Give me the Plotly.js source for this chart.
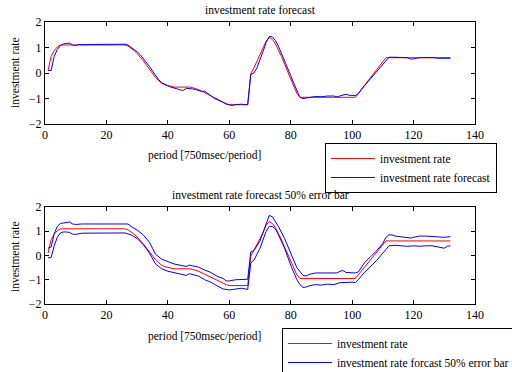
<!DOCTYPE html>
<html>
<head>
<meta charset="utf-8">
<script src="https://cdn.plot.ly/plotly-3.0.1.min.js"></script>
<style>html,body{margin:0;padding:0;background:#fff;overflow:hidden;}#chart{width:512px;height:372px;}</style>
</head>
<body>
<div id="chart"></div>
<script>
// Actual investment rate (same series in both panels)
var rateX = [1,2,3,4,5,26,27,28,29,30,31,32,33,34,35,36,37,38,39,40,41,42,47,48,50,52,54,56,58,59,60,66,67,68,69,70,71,72,73,74,75,76,77,78,79,80,81,82,83,101,111,132];
var rateY = [0.1,0.65,0.88,1.02,1.1,1.1,1.06,0.98,0.88,0.76,0.63,0.48,0.32,0.15,-0.02,-0.18,-0.3,-0.4,-0.46,-0.5,-0.53,-0.55,-0.55,-0.57,-0.65,-0.78,-0.9,-1.02,-1.14,-1.2,-1.24,-1.24,-0.02,0.2,0.45,0.7,0.95,1.25,1.4,1.32,1.15,0.92,0.65,0.35,0.05,-0.25,-0.55,-0.8,-0.95,-0.95,0.6,0.6];

// Forecast (top panel)
var fcX = [1,2,3,4,5,6,7,8,9,10,11,12,15,18,21,24,25,26,27,28,29,30,31,32,33,34,35,36,37,38,39,40,41,42,43,44,45,46,47,48,49,50,51,52,53,54,55,56,57,58,59,60,61,62,63,64,65,66,67,68,69,70,71,72,73,74,75,76,77,78,79,80,81,82,83,84,85,86,88,90,92,94,95,96,97,98,99,100,101,102,103,104,106,108,110,112,114,116,118,119,120,121,122,124,126,128,130,131,132];
var fcY = [0.1,0.1,0.65,0.92,1.08,1.14,1.16,1.17,1.1,1.08,1.12,1.11,1.12,1.12,1.11,1.11,1.13,1.13,1.1,1.02,0.93,0.83,0.72,0.58,0.42,0.26,0.08,-0.1,-0.26,-0.38,-0.45,-0.5,-0.55,-0.6,-0.62,-0.66,-0.68,-0.6,-0.6,-0.62,-0.65,-0.7,-0.72,-0.71,-0.8,-0.9,-0.98,-1.04,-1.08,-1.15,-1.22,-1.26,-1.27,-1.24,-1.23,-1.22,-1.24,-1.24,-0.05,0.0,0.2,0.5,0.85,1.2,1.43,1.42,1.28,1.05,0.78,0.5,0.2,-0.1,-0.4,-0.7,-0.95,-1.0,-0.98,-0.95,-0.92,-0.93,-0.9,-0.9,-0.93,-0.9,-0.85,-0.83,-0.87,-0.88,-0.88,-0.82,-0.65,-0.5,-0.22,0.05,0.33,0.62,0.62,0.61,0.6,0.55,0.55,0.58,0.6,0.61,0.61,0.58,0.57,0.56,0.58];

// 50% error bar, upper bound (bottom panel)
var upX = [1,2,3,4,5,6,8,9,10,12,14,16,18,20,22,24,26,27,28,30,32,34,35,36,38,40,42,44,46,47,48,50,52,54,56,58,59,60,62,64,66,67,68,70,72,73,74,75,76,78,80,82,84,85,86,88,90,92,94,95,96,97,98,100,101,102,104,106,108,110,111,112,113,114,116,118,119,120,122,124,126,128,130,132];
var upY = [0.3,0.35,0.9,1.2,1.32,1.35,1.38,1.3,1.28,1.3,1.3,1.33,1.3,1.3,1.3,1.32,1.33,1.3,1.2,1.05,0.85,0.55,0.3,0.05,-0.15,-0.25,-0.35,-0.4,-0.45,-0.4,-0.42,-0.48,-0.6,-0.7,-0.85,-0.95,-1.05,-1.05,-1.0,-1.0,-0.98,0.15,0.2,0.6,1.3,1.65,1.6,1.4,1.2,0.7,0.1,-0.5,-0.82,-0.85,-0.78,-0.72,-0.72,-0.72,-0.75,-0.72,-0.65,-0.62,-0.7,-0.72,-0.72,-0.68,-0.3,-0.05,0.2,0.5,0.75,0.85,0.85,0.8,0.78,0.75,0.72,0.75,0.8,0.8,0.78,0.78,0.75,0.78];

// 50% error bar, lower bound (bottom panel)
var loX = [1,2,3,4,5,6,7,8,9,10,12,14,16,18,20,22,24,25,26,28,30,32,34,36,38,40,42,44,46,47,48,50,52,54,56,58,60,62,64,66,67,68,70,72,73,74,75,76,78,80,82,83,84,85,86,88,90,92,94,96,98,100,101,102,104,106,108,110,112,114,116,118,120,122,124,126,128,130,131,132];
var loY = [-0.1,-0.08,0.4,0.75,0.93,0.97,0.97,0.95,0.88,0.87,0.92,0.92,0.93,0.92,0.92,0.92,0.93,0.95,0.93,0.85,0.7,0.45,0.1,-0.35,-0.55,-0.65,-0.7,-0.78,-0.82,-0.75,-0.78,-0.85,-1.0,-1.1,-1.25,-1.38,-1.42,-1.38,-1.35,-1.4,-0.3,-0.2,0.3,1.0,1.2,1.2,1.1,0.85,0.3,-0.4,-1.0,-1.2,-1.32,-1.3,-1.25,-1.2,-1.22,-1.18,-1.2,-1.12,-1.1,-1.1,-1.12,-1.0,-0.7,-0.45,-0.2,0.1,0.4,0.42,0.4,0.38,0.4,0.38,0.4,0.4,0.35,0.3,0.38,0.4];

var FONT = 'Liberation Serif, Times New Roman, serif';
var RED = '#ff0000', BLUE = '#0000ff';

var traces = [
  {x: rateX, y: rateY, xaxis: 'x', yaxis: 'y', mode: 'lines', name: 'investment rate', line: {color: RED, width: 1}, legend: 'legend'},
  {x: fcX, y: fcY, xaxis: 'x', yaxis: 'y', mode: 'lines', name: 'investment rate forecast', line: {color: BLUE, width: 1}, legend: 'legend'},
  {x: rateX, y: rateY, xaxis: 'x2', yaxis: 'y2', mode: 'lines', name: 'investment rate', line: {color: RED, width: 1}, legend: 'legend2'},
  {x: upX, y: upY, xaxis: 'x2', yaxis: 'y2', mode: 'lines', name: 'investment rate forcast 50% error bar', line: {color: BLUE, width: 1}, legend: 'legend2'},
  {x: loX, y: loY, xaxis: 'x2', yaxis: 'y2', mode: 'lines', name: 'lower', showlegend: false, line: {color: BLUE, width: 1}, legend: 'legend2'}
];

function xax(anchor) {
  return {domain: [0, 1], anchor: anchor, range: [0, 140], tickvals: [0,20,40,60,80,100,120,140],
    ticks: 'inside', ticklen: 4, tickcolor: '#000', showline: true, linecolor: '#000', linewidth: 1,
    mirror: 'ticks', showgrid: false, zeroline: false, tickfont: {family: FONT, size: 12, color: '#000'}};
}
function yax(anchor, dom) {
  return {domain: dom, anchor: anchor, range: [-2, 2], tickvals: [-2,-1,0,1,2],
    ticks: 'inside', ticklen: 4, tickcolor: '#000', showline: true, linecolor: '#000', linewidth: 1,
    mirror: 'ticks', showgrid: false, zeroline: false, tickfont: {family: FONT, size: 12, color: '#000'}};
}

function ann(text, x, y, angle) {
  return {text: text, xref: 'paper', yref: 'paper', x: x, y: y, showarrow: false,
    xanchor: 'center', yanchor: 'middle', textangle: angle || 0, font: {family: FONT, size: 11.5, color: '#000'}};
}

var legendStyle = {bgcolor: '#fff', bordercolor: '#000', borderwidth: 1, xanchor: 'left', yanchor: 'top',
  font: {family: FONT, size: 11.5, color: '#000'}, tracegroupgap: 0, itemwidth: 44};

var layout = {
  width: 512, height: 372,
  margin: {l: 45, r: 37, t: 22, b: 68, autoexpand: false},
  paper_bgcolor: '#fff', plot_bgcolor: '#fff',
  xaxis: xax('y'), yaxis: yax('x', [0.638, 1]),
  xaxis2: xax('y2'), yaxis2: yax('x2', [0, 0.344]),
  showlegend: true,
  legend: Object.assign({}, legendStyle, {x: 0.651, y: 0.571}),
  legend2: Object.assign({}, legendStyle, {x: 0.551, y: -0.085}),
  annotations: [
    ann('investment rate forecast', 0.5, 1.0426),
    ann('investment rate forecast 50% error bar', 0.5, 0.3865),
    ann('period [750msec/period]', 0.372, 0.528),
    ann('period [750msec/period]', 0.372, -0.117),
    ann('investment rate', -0.0698, 0.823, -90),
    ann('investment rate', -0.0698, 0.170, -90)
  ]
};

Plotly.newPlot('chart', traces, layout, {staticPlot: true, displayModeBar: false});
</script>
</body>
</html>
